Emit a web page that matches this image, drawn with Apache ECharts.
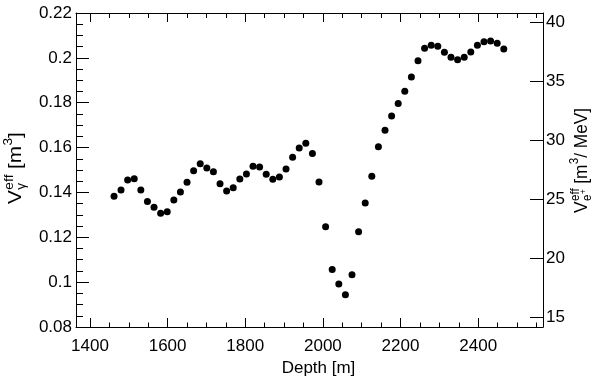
<!DOCTYPE html>
<html>
<head>
<meta charset="utf-8">
<script src="https://cdn.jsdelivr.net/npm/echarts@6/dist/echarts.min.js"></script>
<style>
  html, body { margin: 0; padding: 0; background: #fff; }
  #chart { width: 600px; height: 380px; }
</style>
</head>
<body>
<div id="chart"></div>
<script>
// depth of each point [m] and the effective volume [m^3]
var depth = [1462, 1480, 1497, 1514, 1531, 1548, 1565, 1582, 1599, 1616,
  1633, 1650, 1667, 1684, 1701, 1718, 1735, 1752, 1769, 1786,
  1803, 1820, 1837, 1854, 1871, 1888, 1905, 1922, 1939, 1956,
  1973, 1990, 2007, 2024, 2041, 2058, 2075, 2092, 2109, 2126,
  2143, 2160, 2177, 2194, 2211, 2228, 2245, 2262, 2279, 2296,
  2313, 2330, 2347, 2364, 2381, 2398, 2415, 2432, 2449, 2466];
var vEff = [0.1383, 0.1411, 0.1455, 0.1461, 0.1411, 0.1360, 0.1334, 0.1307, 0.1314, 0.1366,
  0.1402, 0.1445, 0.1497, 0.1528, 0.1509, 0.1492, 0.1439, 0.1406, 0.1421, 0.1460,
  0.1482, 0.1517, 0.1513, 0.1481, 0.1459, 0.1469, 0.1504, 0.1557, 0.1598, 0.1619,
  0.1574, 0.1447, 0.1247, 0.1056, 0.0992, 0.0944, 0.1033, 0.1225, 0.1353, 0.1472,
  0.1604, 0.1677, 0.1741, 0.1797, 0.1851, 0.1915, 0.1987, 0.2043, 0.2056, 0.2052,
  0.2025, 0.2003, 0.1992, 0.2003, 0.2026, 0.2056, 0.2072, 0.2075, 0.2065, 0.2040];

var xMajorTicks = [1400, 1600, 1800, 2000, 2200, 2400];
var xMinorTicks = [1400, 1450, 1500, 1550, 1600, 1650, 1700, 1750, 1800, 1850, 1900, 1950,
  2000, 2050, 2100, 2150, 2200, 2250, 2300, 2350, 2400, 2450, 2500, 2550];
var yRightTicks = [15, 20, 25, 30, 35, 40];

var FONT = 'Liberation Sans';
var black = '#000';

var xMin = 1364, xMax = 2567;
var lineStyle = { color: black, width: 1 };

function xAxisDef(pos, values, len, withLine, withLabel) {
  return {
    type: 'value', position: pos, min: xMin, max: xMax,
    axisLine: { show: withLine, onZero: false, lineStyle: lineStyle },
    axisTick: { show: true, inside: true, length: len, customValues: values, lineStyle: lineStyle },
    axisLabel: withLabel ? {
      show: true, customValues: values, margin: 11,
      color: black, fontFamily: FONT, fontSize: 17,
      formatter: function (v) { return String(v); }
    } : { show: false },
    splitLine: { show: false }
  };
}

var bottomAxis = xAxisDef('bottom', xMajorTicks, 9, true, true);
bottomAxis.name = 'Depth [m]';
bottomAxis.nameLocation = 'middle';
bottomAxis.nameGap = 31;
bottomAxis.nameTextStyle = { color: black, fontFamily: FONT, fontSize: 17, padding: [0, 0, 0, 18] };

// axis titles with stacked sub/superscripts
function titlePieces(rest, subText, subSup) {
  var main = '18px ' + FONT, small = '12px ' + FONT, tiny = '9px ' + FONT;
  var kids = [
    { type: 'text', x: 0, y: 0, style: { text: 'V', font: main, fill: black, textVerticalAlign: 'middle' } },
    { type: 'text', x: 12.5, y: -6, style: { text: 'eff', font: small, fill: black, textVerticalAlign: 'middle' } },
    { type: 'text', x: 12.5, y: 6, style: { text: subText, font: small, fill: black, textVerticalAlign: 'middle' } },
    { type: 'text', x: 25.5, y: 0, style: { text: ' [m', font: main, fill: black, textVerticalAlign: 'middle' } },
    { type: 'text', x: 50.8, y: -7, style: { text: '3', font: small, fill: black, textVerticalAlign: 'middle' } },
    { type: 'text', x: 57.5, y: 0, style: { text: rest, font: main, fill: black, textVerticalAlign: 'middle' } }
  ];
  if (subSup) {
    kids.push({ type: 'text', x: 19.5, y: 2, style: { text: subSup, font: tiny, fill: black, textVerticalAlign: 'middle' } });
  }
  return kids;
}

var chart = echarts.init(document.getElementById('chart'), null, { renderer: 'canvas' });
chart.setOption({
  backgroundColor: '#fff',
  animation: false,
  grid: { left: 76, right: 57, top: 13, bottom: 53, outerBoundsMode: 'none' },
  xAxis: [
    bottomAxis,
    xAxisDef('bottom', xMinorTicks, 4.5, false, false),
    xAxisDef('top', xMajorTicks, 9, true, false),
    xAxisDef('top', xMinorTicks, 5, false, false)
  ],
  yAxis: [
    {
      type: 'value', position: 'left', min: 0.08, max: 0.22, interval: 0.02,
      axisLine: { show: true, lineStyle: lineStyle },
      axisTick: { show: true, inside: true, length: 13, lineStyle: lineStyle },
      minorTick: { show: true, splitNumber: 4, length: 7, lineStyle: lineStyle },
      axisLabel: { margin: 4, color: black, fontFamily: FONT, fontSize: 17 },
      splitLine: { show: false }
    },
    {
      type: 'value', position: 'right', min: 14.15, max: 40.76,
      axisLine: { show: true, lineStyle: lineStyle },
      axisTick: { show: true, inside: true, length: 13, customValues: yRightTicks, lineStyle: lineStyle },
      axisLabel: { margin: 3, customValues: yRightTicks, color: black, fontFamily: FONT, fontSize: 17 },
      splitLine: { show: false }
    }
  ],
  graphic: [
    { type: 'group', x: 16, y: 204, rotation: Math.PI / 2, scaleX: 1.15, children: titlePieces(']', '\u03b3') },
    { type: 'group', x: 582, y: 213, rotation: Math.PI / 2, scaleX: 0.96, children: titlePieces('/ MeV]', 'e', '+') }
  ],
  series: [{
    type: 'scatter',
    xAxisIndex: 0,
    yAxisIndex: 0,
    symbol: 'circle',
    symbolSize: 7,
    itemStyle: { color: black, opacity: 1 },
    data: depth.map(function (d, i) { return [d, vEff[i]]; })
  }]
});
</script>
</body>
</html>
